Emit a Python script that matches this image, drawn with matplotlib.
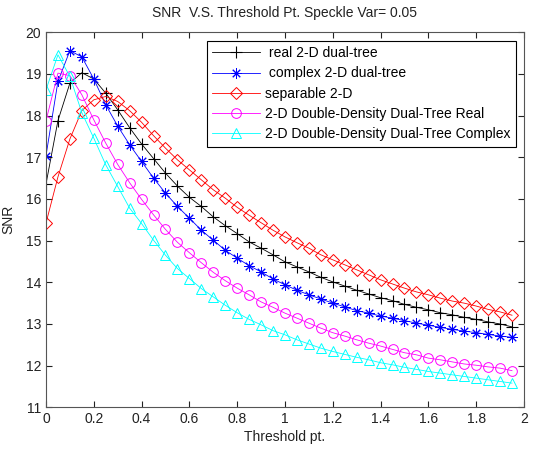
#SNR vs threshold para distintas transformadas

import numpy as np
import matplotlib
matplotlib.use('Agg')
import matplotlib.pyplot as plt

plt.rcParams['font.family'] = ['Liberation Sans', 'DejaVu Sans']

# umbral de 0 a 1.95 paso 0.05
umbral = np.arange(40) * 0.05

snr_real = [16.36, 17.88, 18.78, 19.03, 18.88, 18.54, 18.14, 17.71, 17.32, 16.97,
            16.62, 16.31, 16.04, 15.82, 15.57, 15.36, 15.17, 14.97, 14.82, 14.66,
            14.49, 14.37, 14.25, 14.12, 14.01, 13.91, 13.81, 13.72, 13.63, 13.56,
            13.47, 13.40, 13.34, 13.27, 13.22, 13.16, 13.11, 13.05, 13.00, 12.93]
snr_complex = [17.04, 18.82, 19.56, 19.41, 18.88, 18.26, 17.75, 17.30, 16.90, 16.50,
               16.14, 15.82, 15.54, 15.25, 15.01, 14.77, 14.58, 14.40, 14.25, 14.08,
               13.94, 13.81, 13.70, 13.60, 13.50, 13.41, 13.32, 13.26, 13.19, 13.14,
               13.08, 13.02, 12.97, 12.92, 12.87, 12.83, 12.79, 12.75, 12.71, 12.68]
snr_sep = [15.42, 16.53, 17.44, 18.12, 18.38, 18.46, 18.34, 18.12, 17.84, 17.52,
           17.22, 16.94, 16.70, 16.46, 16.22, 16.02, 15.80, 15.61, 15.43, 15.25,
           15.09, 14.95, 14.82, 14.66, 14.54, 14.42, 14.30, 14.18, 14.06, 13.96,
           13.86, 13.77, 13.70, 13.62, 13.55, 13.50, 13.43, 13.35, 13.29, 13.21]
snr_dd_real = [17.88, 19.02, 18.96, 18.50, 17.90, 17.34, 16.83, 16.39, 15.99, 15.62,
               15.27, 14.96, 14.71, 14.47, 14.24, 14.04, 13.86, 13.70, 13.53, 13.40,
               13.26, 13.14, 13.02, 12.90, 12.79, 12.71, 12.62, 12.54, 12.47, 12.39,
               12.31, 12.26, 12.18, 12.14, 12.09, 12.04, 12.01, 11.97, 11.94, 11.88]
snr_dd_complex = [18.62, 19.46, 18.94, 18.07, 17.46, 16.82, 16.30, 15.78, 15.41, 15.01,
                  14.65, 14.33, 14.09, 13.85, 13.65, 13.45, 13.27, 13.11, 12.98, 12.84,
                  12.74, 12.62, 12.52, 12.42, 12.34, 12.27, 12.20, 12.14, 12.07, 12.02,
                  11.96, 11.91, 11.86, 11.82, 11.78, 11.74, 11.70, 11.66, 11.62, 11.58]

etiquetas = [' real 2-D dual-tree', ' complex 2-D dual-tree', 'separable 2-D',
             '2-D Double-Density Dual-Tree Real', '2-D Double-Density Dual-Tree Complex']

fig = plt.figure(figsize=(5.33, 4.5), dpi=100)
ax = fig.add_axes([0.0863, 0.0949, 0.8967, 0.8333])

asterisco = (8, 2, 0)  # asterisco tipo matlab
ax.plot(umbral, snr_real, '-+', color='k', lw=0.6, ms=8, mew=0.8, label=etiquetas[0])
ax.plot(umbral, snr_complex, '-', marker=asterisco, color='#0000FF', lw=0.6, ms=7.5, mew=0.7, label=etiquetas[1])
ax.plot(umbral, snr_sep, '-D', color='#FF0000', lw=0.6, ms=6, mew=0.7, mfc='none', label=etiquetas[2])
ax.plot(umbral, snr_dd_real, '-o', color='#FF00FF', lw=0.6, ms=7, mew=0.7, mfc='none', label=etiquetas[3])
ax.plot(umbral, snr_dd_complex, '-^', color='#00FFFF', lw=0.6, ms=7, mew=0.7, mfc='none', label=etiquetas[4])

ax.set_xlim(0, 2)
ax.set_ylim(11, 20)
ax.set_xticks(np.arange(0, 2.01, 0.2))
ax.set_xticklabels(['0', '0.2', '0.4', '0.6', '0.8', '1', '1.2', '1.4', '1.6', '1.8', '2'])
ax.set_yticks(range(11, 21))
ax.tick_params(direction='in', top=True, right=True, labelsize=10, length=4, colors='#222222')
for s in ax.spines.values():
    s.set_color('#555555')
    s.set_linewidth(0.8)

ax.set_title('SNR  V.S. Threshold Pt. Speckle Var= 0.05', fontsize=10, color='#222222', pad=11)
ax.set_xlabel('Threshold pt.', fontsize=10, color='#222222', labelpad=3)
ax.set_ylabel('SNR', fontsize=10, color='#222222', labelpad=7)

leg = ax.legend(loc='upper right', numpoints=1, fontsize=10, handlelength=3.4,
                fancybox=False, framealpha=1, edgecolor='k', borderaxespad=0.6,
                labelspacing=0.45, handletextpad=0.35, borderpad=0.4)
leg.get_frame().set_linewidth(0.8)

fig.savefig('out.png', dpi=100)
